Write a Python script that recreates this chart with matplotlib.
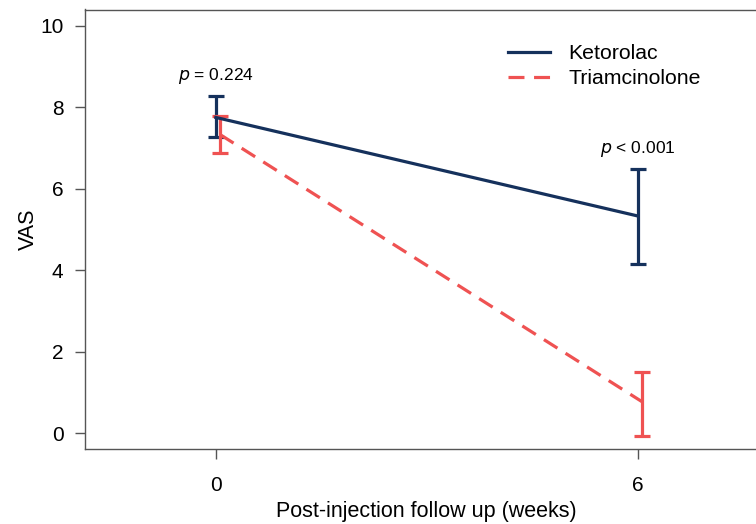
import matplotlib
matplotlib.use("Agg")
import matplotlib.pyplot as plt

plt.rcParams['font.family'] = ['Liberation Sans', 'DejaVu Sans']

weeks = [0, 6]
ketorolac_mean = [7.75, 5.33]
ketorolac_lo = [7.27, 4.16]
ketorolac_hi = [8.27, 6.49]
triam_mean = [7.33, 0.77]
triam_lo = [6.87, -0.06]
triam_hi = [7.78, 1.50]
triam_shift = 0.06
p_labels = ["= 0.224", "< 0.001"]
p_y = [8.67, 6.87]

navy = '#15315c'
red = '#ef5252'

fig = plt.figure(figsize=(7.56, 5.24), dpi=100)
ax = fig.add_axes([85 / 756, 1 - 449 / 524, (768 - 85) / 756, (449 - 9.5) / 524])

k_err = [[m - l for m, l in zip(ketorolac_mean, ketorolac_lo)],
         [h - m for m, h in zip(ketorolac_mean, ketorolac_hi)]]
t_err = [[m - l for m, l in zip(triam_mean, triam_lo)],
         [h - m for m, h in zip(triam_mean, triam_hi)]]
tx = [w + triam_shift for w in weeks]

ax.errorbar(weeks, ketorolac_mean, yerr=k_err, color=navy, lw=2.3,
            capsize=6, capthick=2.3, label='Ketorolac')
ax.errorbar(tx, triam_mean, yerr=t_err, color=red, lw=2.3, ls=(0, (5, 3)),
            capsize=6, capthick=2.3, label='Triamcinolone')

for w, txt, y in zip(weeks, p_labels, p_y):
    ax.text(w, y, r'$\mathit{p}$ ' + txt, ha='center', va='baseline', fontsize=12.5)

ax.set_xlim(-1.86, 7.85)
ax.set_ylim(-0.39, 10.4)
ax.set_xticks(weeks)
ax.set_yticks([0, 2, 4, 6, 8, 10])
ax.tick_params(labelsize=15, length=7.5, width=1, color='#555555')
ax.tick_params(axis='y', pad=8)
ax.tick_params(axis='x', pad=12)
for s in ax.spines.values():
    s.set_color('#555555')
    s.set_linewidth(1)
ax.set_xlabel('Post-injection follow up (weeks)', fontsize=15.5, labelpad=4)
ax.set_ylabel('VAS', fontsize=15.5, labelpad=1)

handles, labels = ax.get_legend_handles_labels()
handles = [h[0] for h in handles]
ax.legend(handles, labels, loc='upper left', bbox_to_anchor=((489 - 85) / 683, 0.965),
          frameon=False, fontsize=15.3, handlelength=1.95, handletextpad=0.9,
          labelspacing=0.3)

fig.savefig('out.png', dpi=100)
